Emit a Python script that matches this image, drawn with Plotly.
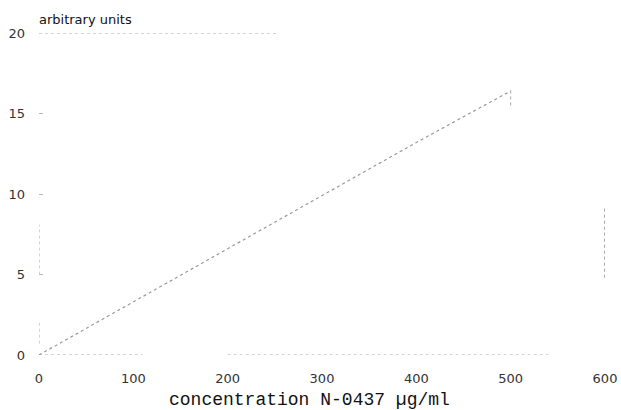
import plotly.graph_objects as go

# data
conc = [0, 100, 200, 300, 400, 500]
signal = [0, 3.3, 6.6, 9.9, 13.2, 16.4]
x_ticks = [0, 100, 200, 300, 400, 500, 600]
y_ticks = [0, 5, 10, 15, 20]

# faint frame fragments of the scanned figure (x0, y0, x1, y1)
frame_segments = [
    (0, 0, 110, 0),
    (200, 0, 540, 0),
    (0, 20, 252, 20),
    (0, 0.7, 0, 2.2),
    (0, 5, 0, 8.1),
    (599.5, 4.8, 599.5, 9.2),
    (500, 15.5, 500, 16.6),
]

fig = go.Figure()
fig.add_trace(go.Scatter(
    x=conc, y=signal, mode="lines",
    line=dict(color="#9a9a9a", width=1.2, dash="dot"),
    hoverinfo="skip", showlegend=False,
))

for x0, y0, x1, y1 in frame_segments:
    fig.add_shape(type="line", x0=x0, y0=y0, x1=x1, y1=y1, xref="x", yref="y",
                  line=dict(color="#a8a8a8", width=1, dash="dot"), layer="below")

fig.update_layout(
    width=621, height=410,
    margin=dict(l=39, r=16, t=33, b=55),
    plot_bgcolor="white", paper_bgcolor="white",
    font=dict(family="DejaVu Sans", color="#333333"),
    xaxis=dict(
        range=[0, 600], tickvals=x_ticks, ticktext=[str(v) for v in x_ticks],
        showgrid=False, zeroline=False, showline=False, automargin=False,
        ticks="", ticklabelstandoff=14,
        tickfont=dict(size=13, family="DejaVu Sans", color="#333333"),
    ),
    yaxis=dict(
        range=[0, 20], tickvals=y_ticks, ticktext=[str(v) for v in y_ticks],
        showgrid=False, zeroline=False, showline=False, automargin=False,
        ticks="inside", ticklen=4, tickcolor="#bbbbbb", tickwidth=1,
        ticklabelstandoff=13,
        tickfont=dict(size=13, family="DejaVu Sans", color="#333333"),
    ),
    annotations=[
        dict(text="arbitrary units", xref="paper", yref="paper", x=0, y=1,
             xanchor="left", yanchor="bottom", xshift=-2, yshift=4, showarrow=False,
             font=dict(size=13, family="DejaVu Sans", color="#111111")),
        dict(text="concentration N-0437 µg/ml", xref="paper", yref="paper",
             x=0.5, y=0, xanchor="center", yanchor="middle", xshift=-13, yshift=-45,
             showarrow=False,
             font=dict(size=18, family="Liberation Mono", color="#111111")),
    ],
)

fig.write_html(
    "out.html",
    config={"displayModeBar": False},
    post_script="document.body.style.margin='0';document.body.style.overflow='hidden';",
)
